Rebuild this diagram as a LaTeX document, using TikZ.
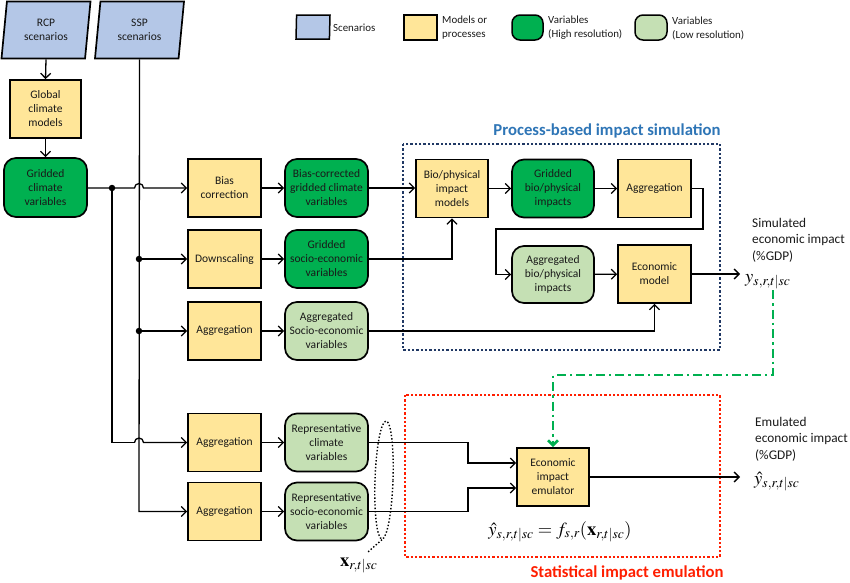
\documentclass[tikz,border=0pt]{standalone}
\usepackage{mathptmx}
\usepackage[no-math]{fontspec}
\setmainfont{Carlito}
\usetikzlibrary{arrows.meta,shapes.geometric,calc}
\definecolor{scenc}{RGB}{180,199,231}
\definecolor{procc}{RGB}{255,230,153}
\definecolor{hic}{RGB}{0,176,80}
\definecolor{loc}{RGB}{197,224,180}
\definecolor{titleblue}{RGB}{46,117,182}
\definecolor{navyc}{RGB}{32,56,100}
\definecolor{redc}{RGB}{255,30,0}
\definecolor{txt}{RGB}{25,25,25}
\begin{document}
\begin{tikzpicture}[x=1pt,y=-1pt,
  boxfont/.style={font=\fontsize{11.5}{14}\selectfont, text=txt},
  base/.style={draw=black, line width=1.7pt, align=center, inner sep=1pt, boxfont},
  proc/.style={base, fill=procc, minimum width=73pt, minimum height=58pt},
  varhi/.style={base, fill=hic, rounded corners=12pt, minimum width=83pt, minimum height=58pt},
  varlo/.style={base, fill=loc, rounded corners=12pt, minimum width=83pt, minimum height=58pt},
  scen/.style={base, fill=scenc, trapezium, trapezium left angle=77, trapezium right angle=103,
     trapezium stretches body, minimum width=89pt, minimum height=57pt},
  conn/.style={line width=1.3pt, draw=black},
  arr/.style={conn, -{Straight Barb[length=5pt,width=10pt]}},
  jdot/.style={circle, fill=black, inner sep=0pt, minimum size=6.5pt},
  lab/.style={font=\fontsize{13.3}{16.5}\selectfont, align=left, inner sep=0pt, text=txt},
  leg/.style={font=\fontsize{10.9}{14}\selectfont, align=left, inner sep=0pt, text=txt},
  mathlab/.style={font=\fontsize{18.5}{21}\selectfont, inner sep=0pt},
  ttl/.style={font=\fontsize{16.7}{19}\selectfont\bfseries, inner sep=0pt},
  grpbox/.style={line width=2.3pt, dash pattern=on 2.3pt off 2pt}
]
\useasboundingbox (0,0) rectangle (850,582);

% ---------- legend ----------
\node[base, fill=scenc, trapezium, trapezium left angle=74, trapezium right angle=106,
  trapezium stretches body, minimum width=34pt, minimum height=24pt, line width=1.5pt] (lgs) at (313,27) {};
\node[leg, anchor=west] (lgst) at (333,28) {Scenarios};
\node[base, fill=procc, minimum width=33pt, minimum height=25pt, line width=1.5pt] (lgp) at (420.5,27.5) {};
\node[leg, anchor=west] (lgpt) at (442,28) {Models or\\processes};
\node[base, fill=hic, rounded corners=8pt, minimum width=31pt, minimum height=25pt, line width=1.5pt] (lgh) at (527.5,27.5) {};
\node[leg, anchor=west] (lght) at (548,28) {Variables\\(High resolution)};
\node[base, fill=loc, rounded corners=8pt, minimum width=32pt, minimum height=25pt, line width=1.5pt] (lgl) at (651,27.5) {};
\node[leg, anchor=west] (lglt) at (672,28) {Variables\\(Low resolution)};

% ---------- nodes ----------
\node[scen] (rcp) at (46,30) {RCP\\scenarios};
\node[scen] (ssp) at (139.5,30) {SSP\\scenarios};
\node[proc, minimum width=71pt] (gcm) at (45.5,109) {Global\\climate\\models};
\node[varhi, minimum height=59pt] (gcv) at (45.5,187.5) {Gridded\\climate\\variables};

\node[proc] (bias) at (224.5,188) {Bias\\correction};
\node[varhi] (bcv) at (326.5,188) {Bias-corrected\\gridded climate\\variables};
\node[proc] (down) at (224.5,259) {Downscaling};
\node[varhi] (gsv) at (326.5,259) {Gridded\\socio-economic\\variables};
\node[proc] (agga) at (224.5,331) {Aggregation};
\node[varlo] (asv) at (326.5,331) {Aggregated\\Socio-economic\\variables};
\node[proc] (aggb) at (224.5,442.5) {Aggregation};
\node[varlo] (rcv) at (326.5,442.5) {Representative\\climate\\variables};
\node[proc] (aggc) at (224.5,511.5) {Aggregation};
\node[varlo] (rsv) at (326.5,511.5) {Representative\\socio-economic\\variables};

\node[proc, minimum width=72pt] (bio) at (452,188.5) {Bio/physical\\impact\\models};
\node[varhi, minimum width=82pt] (gbi) at (553,188.5) {Gridded\\bio/physical\\impacts};
\node[proc] (aggd) at (654.5,188.5) {Aggregation};
\node[varlo, minimum width=82pt, minimum height=57pt] (abi) at (553,274.5) {Aggregated\\bio/physical\\impacts};
\node[proc] (econ) at (654.5,274) {Economic\\model};
\node[proc, minimum width=72pt] (emu) at (553,477) {Economic\\impact\\emulator};

% ---------- group boxes ----------
\draw[navyc, grpbox] (403,144) rectangle (720,350);
\node[ttl, text=titleblue, anchor=base] (ttlp) at (607,135) {Process-based impact simulation};
\draw[redc, grpbox] (405,395) rectangle (720,557);
\node[ttl, text=redc, anchor=base] (ttls) at (627,577) {Statistical impact emulation};

% ---------- left connectors ----------
\draw[arr] (rcp.south) -- (gcm.north);
\draw[arr] (gcm.south) -- (gcv.north);
\coordinate (jA) at (112,188);
\draw[arr] (ssp.south) -- (139,511.5) -- (aggc.west);
\draw[arr] (gcv.east |- jA) -- (134.5,188) arc[start angle=180, end angle=360, radius=4.5] -- (bias.west);
\draw[conn] (jA) -- (112,442.5) -- (134.5,442.5);
\draw[arr] (134.5,442.5) arc[start angle=180, end angle=360, radius=4.5] -- (aggb.west);
\node[jdot] (dA) at (jA) {};
\node[jdot] (dB) at (139,259) {};
\node[jdot] (dC) at (139,331) {};
\draw[arr] (dB) -- (down.west);
\draw[arr] (dC) -- (agga.west);

% ---------- middle ----------
\draw[arr] (bias) -- (bcv);
\draw[arr] (down) -- (gsv);
\draw[arr] (agga) -- (asv);
\draw[arr] (aggb) -- (rcv);
\draw[arr] (aggc) -- (rsv);
\draw[arr] (bcv.east) -- (bio.west |- bcv.east);
\draw[arr] (gsv.east) -| (bio.south);
\draw[arr] (asv.east) -| (econ.south);

% ---------- process box ----------
\draw[arr] (bio) -- (gbi);
\draw[arr] (gbi) -- (aggd);
\draw[arr] (aggd.east) -- (703,188.5) -- (703,229) -- (496,229) |- (abi.west);
\draw[arr] (abi) -- (econ);
\coordinate (simend) at (740,274);
\draw[arr] (econ.east) -- (simend);

% ---------- emulator ----------
\draw[arr] (rcv.east) -- (468,442.5) -- (468,463) -- (emu.west |- 468,463);
\draw[arr] (rsv.east) -- (468,511.5) -- (468,488) -- (emu.west |- 468,488);
\coordinate (emuend) at (740,477);
\draw[arr] (emu.east |- emuend) -- (emuend);

% green dash-dot
\coordinate (gA) at (773,290);
\draw[hic, line width=2.6pt, dash pattern=on 9pt off 4pt on 2.5pt off 4pt,
  -{Straight Barb[length=5pt,width=10pt]}] (gA) -- (773,375) -- (553,375) -- (emu.north);

% ---------- labels ----------
\node[lab, anchor=north west] (simlab) at (752,218) {Simulated\\economic impact\\(\%GDP)};
\node[mathlab, anchor=base west] (simy) at (745,282) {$y_{s,r,t|sc}$};
\node[lab, anchor=north west] (emulab) at (755,417) {Emulated\\economic impact\\(\%GDP)};
\node[mathlab, anchor=base west] (emuy) at (754,484) {$\hat{y}_{s,r,t|sc}$};
\node[mathlab, anchor=base] (formula) at (560,535) {$\hat{y}_{s,r,t|sc}=f_{s,r}(\mathbf{x}_{r,t|sc})$};

\node[ellipse, draw=black, dotted, line width=1.4pt, minimum width=18pt, minimum height=118pt,
  inner sep=0pt, rotate=-2] (xgrp) at (384,480) {};
\node[mathlab, anchor=base west] (xlab) at (340,566) {$\mathbf{x}_{r,t|sc}$};
\draw[dotted, line width=1.4pt] (xgrp.south) -- (368,552);
\end{tikzpicture}
\end{document}
